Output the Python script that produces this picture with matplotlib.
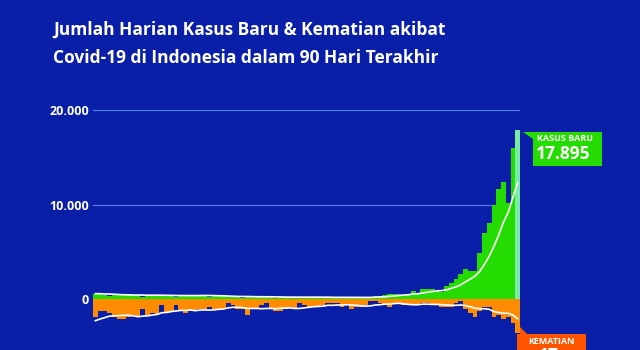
import matplotlib
matplotlib.use('Agg')
import numpy as np
import pandas as pd
import matplotlib.pyplot as plt
from matplotlib.patches import Rectangle, Polygon

# daily data, 5 Nov 2021 .. 2 Feb 2022 (90 days)
cases = [540, 527, 418, 294, 480, 444, 435, 485, 403, 400,
         246, 392, 470, 429, 442, 363, 329, 176, 361, 453,
         427, 430, 392, 360, 176, 297, 357, 351, 266, 238,
         213, 151, 263, 294, 268, 257, 212, 182, 110, 190,
         211, 259, 205, 246, 136, 106, 210, 224, 232, 187,
         175, 92, 138, 161, 255, 196, 173, 174, 92, 265,
         299, 404, 533, 479, 528, 414, 529, 802, 646, 1024,
         1054, 1054, 855, 772, 1362, 1745, 2116, 2604, 3205, 2925,
         2927, 4878, 7010, 8077, 9905, 11588, 12422, 10185, 16021, 17895]
deaths = [9, 6, 6, 7, 9, 10, 10, 9, 8, 9,
          5, 8, 7, 8, 3, 7, 6, 3, 6, 7,
          6, 6, 5, 5, 4, 5, 5, 5, 2, 3,
          5, 5, 8, 5, 5, 3, 2, 5, 6, 6,
          5, 4, 5, 2, 3, 4, 4, 4, 3, 2,
          2, 2, 4, 3, 5, 4, 4, 3, 1, 1,
          2, 3, 4, 2, 2, 3, 3, 3, 3, 2,
          2, 3, 3, 4, 4, 4, 2, 1, 5, 7,
          9, 6, 4, 4, 9, 8, 10, 9, 12, 17]
# six days before the window, needed for the 7-day average line
prev_cases = [620, 580, 410, 560, 690, 600]
prev_deaths = [12, 11, 12, 10, 11, 11]

y_ticks = [0, 10000, 20000]
y_labels = ['0', '10.000', '20.000']
title_lines = ['Jumlah Harian Kasus Baru & Kematian akibat',
               'Covid-19 di Indonesia dalam 90 Hari Terakhir']
last_cases_label = '17.895'
last_deaths_label = '17'

BG = '#0a1fa8'
GREEN = '#24dc00'
LIGHT_GREEN = '#78eca0'
ORANGE = '#ff8c00'
RED_ORANGE = '#ff5500'
GRID = '#5078ea'
FONT = 'Open Sans'

W, H = 640, 350


def fx(px):
    return px / W


def fy(py):
    return 1 - py / H


n = len(cases)
x = np.arange(n)
cases_avg = pd.Series(prev_cases + cases).rolling(7).mean().values[6:]
deaths_avg = pd.Series(prev_deaths + deaths).rolling(7).mean().values[6:]

fig = plt.figure(figsize=(6.4, 3.5), dpi=100, facecolor=BG)

# zero sits at y=299px, 20.000 at y=110px
ax = fig.add_axes([fx(93), 0, fx(520) - fx(93), fy(105)])
ax.set_facecolor('none')
px_per_case = (299 - 110) / 20000.
ax.set_ylim(-(350 - 299) / px_per_case, (299 - 105) / px_per_case)
ax.set_xlim(-0.5, n - 0.5)

# deaths on their own scale, 2 px per death
ax2 = ax.twinx()
ax2.set_ylim(-(350 - 299) / 2., (299 - 105) / 2.)
ax2.set_axis_off()

for v in y_ticks[1:]:
    ax.axhline(v, color=GRID, lw=0.9, zorder=1)

colors = [GREEN] * (n - 1) + [LIGHT_GREEN]
ax.bar(x, cases, width=1.0, color=colors, linewidth=0, zorder=2)
ax.plot(x, cases_avg, color='white', lw=1.2, zorder=3)

ax2.bar(x, [-d for d in deaths], width=1.0, color=ORANGE, linewidth=0, zorder=2)
ax2.plot(x, -deaths_avg, color='white', lw=1.2, zorder=3)

ax.set_yticks(y_ticks)
ax.set_yticklabels(y_labels, color='white', fontsize=9, fontweight='bold',
                   family=FONT)
ax.tick_params(axis='y', length=0, pad=3)
ax.set_xticks([])
for s in ax.spines.values():
    s.set_visible(False)

# title
fig.text(fx(53), fy(35), title_lines[0], color='white', fontsize=12.5,
         fontweight='bold', family=FONT, va='baseline')
fig.text(fx(53), fy(63), title_lines[1], color='white', fontsize=12.5,
         fontweight='bold', family=FONT, va='baseline')

# label box for the last case bar
fig.add_artist(Rectangle((fx(533), fy(166)), fx(602) - fx(533), fy(132) - fy(166),
                         transform=fig.transFigure, color=GREEN, lw=0))
fig.add_artist(Polygon([(fx(523), fy(132)), (fx(533), fy(132)), (fx(533), fy(139))],
                       closed=True, transform=fig.transFigure, color=GREEN, lw=0))
fig.text(fx(537), fy(138), 'KASUS BARU', color='white', fontsize=6.5,
         fontweight='bold', family=FONT, va='center')
fig.text(fx(536), fy(154), last_cases_label, color='white', fontsize=12.5,
         fontweight='bold', family=FONT, va='center')

# label box for the last death bar, runs off the bottom edge as in the source
fig.add_artist(Rectangle((fx(517), fy(360)), fx(586) - fx(517), fy(334) - fy(360),
                         transform=fig.transFigure, color=RED_ORANGE, lw=0))
fig.add_artist(Polygon([(fx(520), fy(327)), (fx(520), fy(334)), (fx(527), fy(334))],
                       closed=True, transform=fig.transFigure, color=RED_ORANGE, lw=0))
fig.text(fx(551), fy(342), 'KEMATIAN', color='white', fontsize=6.5,
         fontweight='bold', family=FONT, va='center', ha='center')
fig.text(fx(549), fy(347), last_deaths_label, color='white', fontsize=12.5,
         fontweight='bold', family=FONT, va='top', ha='center')

fig.savefig('out.png', dpi=100, facecolor=BG)
